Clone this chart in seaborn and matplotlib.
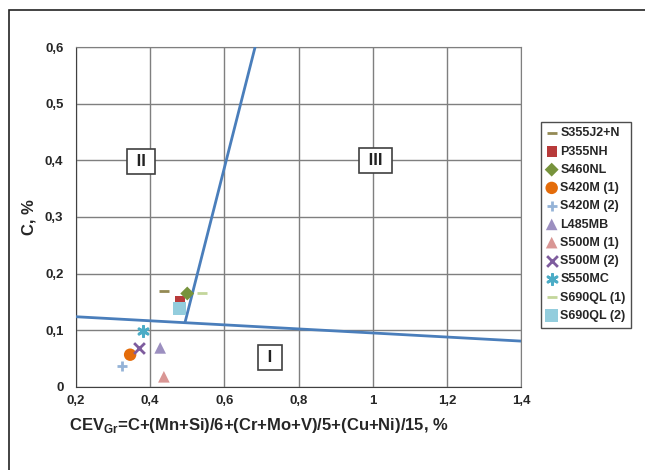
import numpy as np
import pandas as pd
import seaborn as sns
import matplotlib.pyplot as plt
from matplotlib.patches import Rectangle

# steel grades and their (CEV_Gr, C) values
grades = ['S355J2+N', 'P355NH', 'S460NL', 'S420M (1)', 'S420M (2)', 'L485MB',
          'S500M (1)', 'S500M (2)', 'S550MC', 'S690QL (1)', 'S690QL (2)']
cev = [0.436, 0.481, 0.500, 0.346, 0.325, 0.427, 0.437, 0.371, 0.380, 0.539, 0.479]
carbon = [0.170, 0.152, 0.165, 0.057, 0.037, 0.069, 0.018, 0.069, 0.099, 0.166, 0.138]
markers = ['_', 's', 'D', 'o', '+', '^', '^', 'x', (6, 2, 0), '_', 's']
colors = ['#948A54', '#B83A3A', '#77933C', '#E46C0A', '#95B3D7', '#9C8FC0',
          '#D99694', '#7E5C9E', '#4BACC6', '#C3D69B', '#93CDDD']
sizes = [60, 55, 50, 80, 60, 70, 70, 60, 55, 60, 90]

# boundary lines of the Graville diagram
line1_x = [0.2, 1.4]
line1_y = [0.124, 0.081]
line2_x = [0.494, 0.683]
line2_y = [0.114, 0.6]

# zone labels
zones = ['I', 'II', 'III']
zone_x = [0.724, 0.375, 1.007]
zone_y = [0.052, 0.398, 0.400]

xticks = [0.2, 0.4, 0.6, 0.8, 1.0, 1.2, 1.4]
xlabels = ['0,2', '0,4', '0,6', '0,8', '1', '1,2', '1,4']
yticks = [0, 0.1, 0.2, 0.3, 0.4, 0.5, 0.6]
ylabels = ['0', '0,1', '0,2', '0,3', '0,4', '0,5', '0,6']

df = pd.DataFrame({'grade': grades, 'cev': cev, 'c': carbon})

sns.set_style('white')
plt.rcParams['font.family'] = ['Liberation Sans', 'DejaVu Sans']
plt.rcParams['mathtext.fontset'] = 'custom'
plt.rcParams['mathtext.rm'] = 'Liberation Sans:bold'
plt.rcParams['mathtext.bf'] = 'Liberation Sans:bold'

fig = plt.figure(figsize=(6.45, 4.7), dpi=100)
ax = fig.add_axes([0.1178, 0.1766, 0.69, 0.7234])

ax.grid(True, which='major', color='#7f7f7f', lw=1)
ax.set_axisbelow(True)

sns.lineplot(x=line1_x, y=line1_y, ax=ax, color='#4A7EBB', lw=2, zorder=3)
sns.lineplot(x=line2_x, y=line2_y, ax=ax, color='#4A7EBB', lw=2, zorder=3)

for i, g in enumerate(grades):
    sub = df[df['grade'] == g]
    filled = markers[i] in ('s', 'D', 'o', '^')
    kw = dict(edgecolor='none') if filled else dict(linewidths=2)
    sns.scatterplot(data=sub, x='cev', y='c', ax=ax, marker=markers[i],
                    color=colors[i], s=sizes[i], label=g, zorder=4, **kw)

for t, x, y in zip(zones, zone_x, zone_y):
    ax.text(x, y, ' ' + t + ' ', ha='center', va='center', fontsize=12,
            fontweight='bold', color='#222222', zorder=5,
            bbox=dict(boxstyle='square,pad=0.3', fc='white', ec='#404040', lw=1.2))

ax.set_xlim(0.2, 1.4)
ax.set_ylim(0, 0.6)
ax.set_xticks(xticks)
ax.set_xticklabels(xlabels, fontsize=9.5, fontweight='bold')
ax.set_yticks(yticks)
ax.set_yticklabels(ylabels, fontsize=9.5, fontweight='bold')
ax.set_xticks(np.arange(0.2, 1.401, 0.05), minor=True)
ax.set_yticks(np.arange(0, 0.601, 0.025), minor=True)
ax.tick_params(which='both', direction='in', length=3, color='#404040')
ax.tick_params(axis='y', which='both', pad=9)
ax.tick_params(axis='x', which='both', pad=6)

for s in ['left', 'bottom']:
    ax.spines[s].set_color('#404040')
for s in ['top', 'right']:
    ax.spines[s].set_color('#7f7f7f')

ax.set_xlabel(r'CEV$_{\mathbf{Gr}}$=C+(Mn+Si)/6+(Cr+Mo+V)/5+(Cu+Ni)/15, %',
              fontsize=12, fontweight='bold', labelpad=2)
ax.xaxis.set_label_coords(0.41, -0.085)
ax.set_ylabel('C, %', fontsize=12, fontweight='bold', labelpad=6)

leg = ax.legend(loc='upper left', bbox_to_anchor=(1.045, 0.78), frameon=True,
                borderaxespad=0, fancybox=False, edgecolor='#222222',
                handlelength=0.8, handletextpad=0.3, labelspacing=0.5,
                borderpad=0.45, prop={'weight': 'bold', 'size': 9})
leg.get_frame().set_linewidth(1)

fig.patches.append(Rectangle((0.014, -0.1), 1.2, 1.079, transform=fig.transFigure,
                             fill=False, ec='#222222', lw=1.2))

fig.savefig('out.png', dpi=100)
